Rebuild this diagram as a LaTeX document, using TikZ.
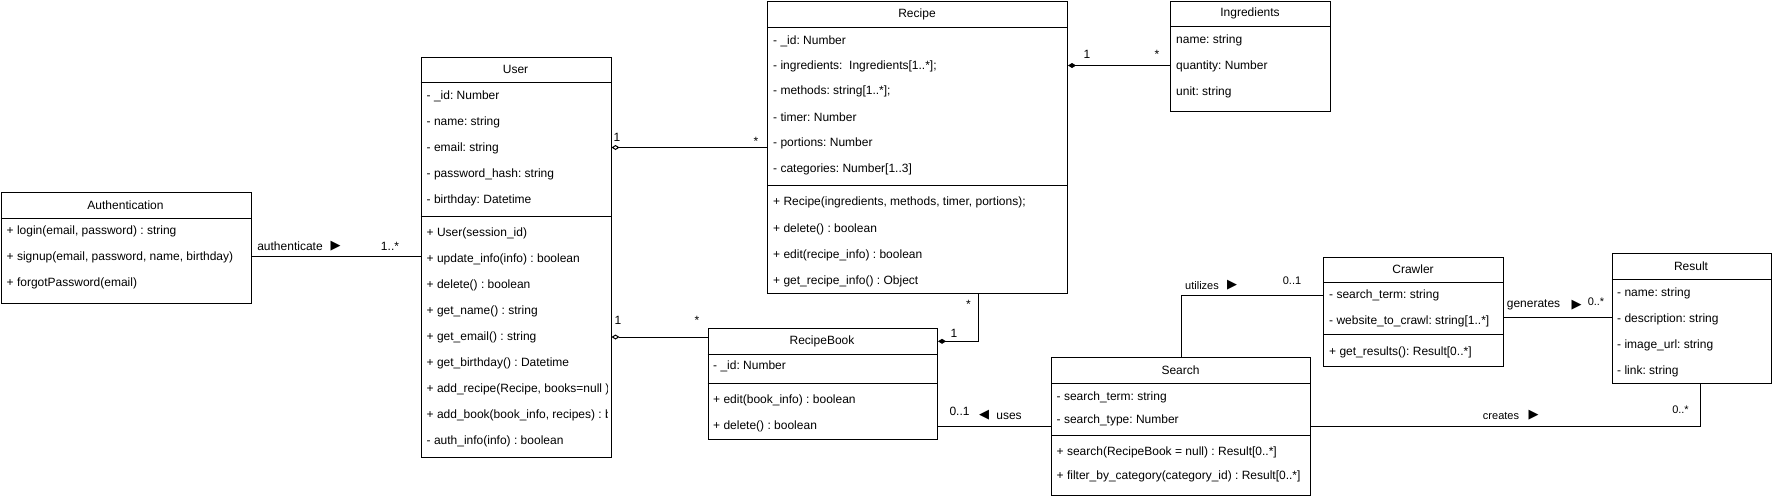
\documentclass[tikz,border=0pt]{standalone}
\usepackage{fontspec}
\setmainfont{Liberation Sans}
\newfontfamily\symfont{DejaVu Sans}
\usetikzlibrary{arrows.meta}
\frenchspacing
\tikzset{
  cls/.style={draw, line width=1pt, inner sep=0pt, anchor=north west, fill=white},
  row/.style={anchor=west, inner sep=0pt, font=\fontsize{12}{14}\selectfont},
  ttl/.style={inner sep=0pt, font=\fontsize{12}{14}\selectfont},
  lbl/.style={inner sep=0pt, font=\fontsize{12}{14}\selectfont},
  slbl/.style={inner sep=0pt, font=\fontsize{11}{13}\selectfont},
  tri/.style={inner sep=0pt, font=\symfont\fontsize{13}{15}\selectfont},
  conn/.style={line width=1pt},
  odia/.style={conn, {Diamond[open,length=8pt,width=5pt]}-},
  fdia/.style={conn, {Diamond[length=8pt,width=5pt]}-}
}
\newcommand\clsline[2]{\draw[line width=1pt] (#1.west |- 0,#2) -- (#1.east |- 0,#2);}
\begin{document}
\begin{tikzpicture}[x=1pt,y=-1pt]
\frenchspacing
\useasboundingbox[fill=white] (0,0) rectangle (1772,496);

% Authentication
\node[cls, minimum width=250pt, minimum height=111pt] (auth) at (0.5,192) {};
\clsline{auth}{218}
\node[ttl] (authT) at (125.5,205) {Authentication};
\node[row] (a1) at (6.5,231.5) {+ login(email, password) : string};
\node[row] (a2) at (6.5,257.5) {+ signup(email, password, name, birthday)};
\node[row] (a3) at (6.5,283.5) {+ forgotPassword(email)};

% User
\node[cls, minimum width=190pt, minimum height=400pt] (user) at (420.5,56.5) {};
\clsline{user}{82.5}
\clsline{user}{216}
\node[ttl] (userT) at (515.5,69.5) {User};
\node[row] (u1) at (426.5,96) {- \_id: Number};
\node[row] (u2) at (426.5,122) {- name: string};
\node[row] (u3) at (426.5,148) {- email: string};
\node[row] (u4) at (426.5,174) {- password\_hash: string};
\node[row] (u5) at (426.5,200) {- birthday: Datetime};
\node[row] (m1) at (426.5,233.5) {+ User(session\_id)};
\node[row] (m2) at (426.5,259.5) {+ update\_info(info) : boolean};
\node[row] (m3) at (426.5,285.5) {+ delete() : boolean};
\node[row] (m4) at (426.5,311.5) {+ get\_name() : string};
\node[row] (m5) at (426.5,337.5) {+ get\_email() : string};
\node[row] (m6) at (426.5,363.5) {+ get\_birthday() : Datetime};
\begin{scope}
\clip (user.north west) rectangle (607,460);
\node[row] (m7) at (426.5,389.5) {+ add\_recipe(Recipe, books=null ) : boolean};
\node[row] (m8) at (426.5,415.5) {+ add\_book(book\_info, recipes) : boolean};
\end{scope}
\node[row] (m9) at (426.5,441.5) {- auth\_info(info) : boolean};

% Recipe
\node[cls, minimum width=300pt, minimum height=292pt] (recipe) at (767,1) {};
\clsline{recipe}{27}
\clsline{recipe}{185}
\node[ttl] (recipeT) at (917,14) {Recipe};
\node[row] (r1) at (773,41) {- \_id: Number};
\node[row] (r2) at (773,66.5) {- ingredients:\ \ Ingredients[1..*];};
\node[row] (r3) at (773,91.5) {- methods: string[1..*];};
\node[row] (r4) at (773,117) {- timer: Number};
\node[row] (r5) at (773,143) {- portions: Number};
\node[row] (r6) at (773,169) {- categories: Number[1..3]};
\node[row] (rm1) at (773,202.5) {+ Recipe(ingredients, methods, timer, portions);};
\node[row] (rm2) at (773,229) {+ delete() : boolean};
\node[row] (rm3) at (773,255) {+ edit(recipe\_info) : boolean};
\node[row] (rm4) at (773,281) {+ get\_recipe\_info() : Object};

% Ingredients
\node[cls, minimum width=160pt, minimum height=110.5pt] (ingr) at (1170,0.5) {};
\clsline{ingr}{26}
\node[ttl] (ingrT) at (1250,13) {Ingredients};
\node[row] (i1) at (1176,40) {name: string};
\node[row] (i2) at (1176,66) {quantity: Number};
\node[row] (i3) at (1176,92) {unit: string};

% RecipeBook
\node[cls, minimum width=229.5pt, minimum height=110.5pt] (rb) at (707.5,328) {};
\clsline{rb}{354}
\clsline{rb}{383}
\node[ttl] (rbT) at (822,341) {RecipeBook};
\node[row] (b1) at (713,366.5) {- \_id: Number};
\node[row] (b2) at (713,400.5) {+ edit(book\_info) : boolean};
\node[row] (b3) at (713,426.5) {+ delete() : boolean};

% Search
\node[cls, minimum width=259pt, minimum height=138pt] (search) at (1051,357) {};
\clsline{search}{383}
\clsline{search}{435}
\node[ttl] (searchT) at (1180.5,370) {Search};
\node[row] (s1) at (1056.5,397.5) {- search\_term: string};
\node[row] (s2) at (1056.5,420.5) {- search\_type: Number};
\node[row] (s3) at (1056.5,452.5) {+ search(RecipeBook = null) : Result[0..*]};
\node[row] (s4) at (1056.5,476.5) {+ filter\_by\_category(category\_id) : Result[0..*]};

% Crawler
\node[cls, minimum width=180pt, minimum height=109.5pt] (crawler) at (1323,256.5) {};
\clsline{crawler}{282.5}
\clsline{crawler}{334.5}
\node[ttl] (crawlerT) at (1413,269.5) {Crawler};
\node[row] (c1) at (1329,295.5) {- search\_term: string};
\node[row] (c2) at (1329,321.5) {- website\_to\_crawl: string[1..*]};
\node[row] (c3) at (1329,352) {+ get\_results(): Result[0..*]};

% Result
\node[cls, minimum width=159.5pt, minimum height=130pt] (result) at (1611.5,253) {};
\clsline{result}{279}
\node[ttl] (resultT) at (1691,266) {Result};
\node[row] (e1) at (1617,293) {- name: string};
\node[row] (e2) at (1617,319) {- description: string};
\node[row] (e3) at (1617,345) {- image\_url: string};
\node[row] (e4) at (1617,371) {- link: string};

% Connectors
\coordinate (c1y) at (300,256.5);
\draw[conn] (auth.east |- c1y) -- (user.west |- c1y);
\node[lbl] (l1) at (290,246) {authenticate};
\node[tri] (l1t) at (335.5,246) {▶};
\node[lbl] (l1m) at (390,246) {1..*};

\coordinate (c2y) at (700,147.5);
\draw[odia] (user.east |- c2y) -- (recipe.west |- c2y);
\node[lbl] (l2a) at (617,137) {1};
\node[lbl] (l2b) at (756,141) {*};

\coordinate (c3y) at (650,337);
\draw[odia] (user.east |- c3y) -- (rb.west |- c3y);
\node[lbl] (l3a) at (618,320) {1};
\node[lbl] (l3b) at (697,320) {*};

\coordinate (c4y) at (1100,65.5);
\draw[fdia] (recipe.east |- c4y) -- (ingr.west |- c4y);
\node[lbl] (l4a) at (1087,54.5) {1};
\node[lbl] (l4b) at (1157,54) {*};

\coordinate (c5) at (978.7,341.3);
\draw[fdia] (rb.east |- c5) -- (c5) -- (recipe.south -| c5);
\node[lbl] (l5a) at (968.5,304) {*};
\node[lbl] (l5b) at (954,333.5) {1};

\coordinate (c6y) at (1000,426);
\draw[conn] (rb.east |- c6y) -- (search.west |- c6y);
\node[lbl] (l6a) at (959.5,411) {0..1};
\node[tri] (l6t) at (984,415) {◀};
\node[lbl] (l6b) at (1009,416) {uses};

\coordinate (c7y) at (1250,295);
\draw[conn] (search.north) |- (crawler.west |- c7y);
\node[slbl] (l7) at (1202,286) {utilizes};
\node[tri] (l7t) at (1232,285.5) {▶};
\node[slbl] (l7m) at (1292,281) {0..1};

\coordinate (c8) at (1550,317.5);
\draw[conn] (crawler.east |- c8) -- (result.west |- c8);
\node[lbl] (l8) at (1533.5,305) {generates};
\node[tri] (l8t) at (1576.5,305) {▶};
\node[slbl] (l8m) at (1596,302) {0..*};

\coordinate (c9) at (1700,426);
\draw[conn] (search.east |- c9) -| (result.south -| c9);
\node[slbl] (l9) at (1501,416) {creates};
\node[tri] (l9t) at (1533.5,415) {▶};
\node[slbl] (l9m) at (1680.5,410) {0..*};
\end{tikzpicture}
\end{document}
